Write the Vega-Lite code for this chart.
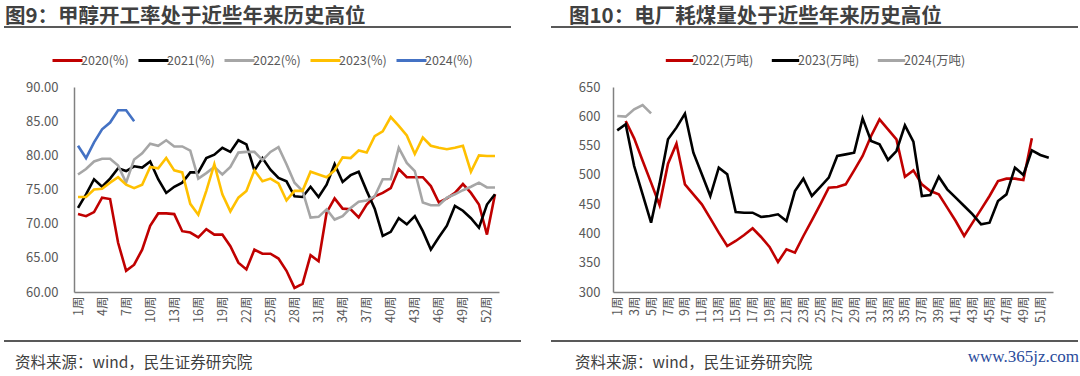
{
  "$schema": "https://vega.github.io/schema/vega-lite/v6.json",
  "background": "white",
  "padding": {"left": 3, "top": 6, "right": 0, "bottom": 0},
  "config": {
    "font": "Noto Sans CJK SC",
    "view": {"stroke": null},
    "axis": {"grid": false, "ticks": false, "tickSize": 0, "labelColor": "#595959", "domainColor": "#808080", "domainWidth": 1.5},
    "title": {"color": "#404040"}
  },
  "title": {"text": "www.365jz.com", "orient": "bottom", "anchor": "end", "offset": -23, "font": "Liberation Serif", "fontSize": 17, "fontWeight": "normal", "color": "#2A4B9B"},
  "spacing": 28,
  "resolve": {"scale": {"color": "independent"}, "legend": {"color": "independent"}},
  "hconcat": [
    {
      "spacing": 7,
      "resolve": {"scale": {"color": "independent"}, "legend": {"color": "independent"}},
      "vconcat": [
        {
          "width": 507, "height": 2,
          "data": {"values": [{"label": "header"}]},
          "mark": {"type": "rule", "color": "#595959", "strokeWidth": 2},
          "encoding": {
            "x": {"datum": 0, "type": "quantitative", "scale": {"domain": [0, 1]}, "axis": null},
            "x2": {"datum": 1}
          },
          "title": {"text": "图9：甲醇开工率处于近些年来历史高位", "anchor": "start", "fontSize": 20.5, "fontWeight": "bold", "color": "#404040", "offset": -1, "dx": 2}
        },
        {
          "width": 495, "height": 205,
          "data": {"values": [
            {"week":1,"series":"2020(%)","value":71.4},{"week":2,"series":"2020(%)","value":71.1},{"week":3,"series":"2020(%)","value":71.7},{"week":4,"series":"2020(%)","value":73.8},{"week":5,"series":"2020(%)","value":73.6},{"week":6,"series":"2020(%)","value":67.2},{"week":7,"series":"2020(%)","value":63.1},{"week":8,"series":"2020(%)","value":64.0},{"week":9,"series":"2020(%)","value":66.2},{"week":10,"series":"2020(%)","value":69.7},
            {"week":11,"series":"2020(%)","value":71.5},{"week":12,"series":"2020(%)","value":71.5},{"week":13,"series":"2020(%)","value":71.4},{"week":14,"series":"2020(%)","value":68.9},{"week":15,"series":"2020(%)","value":68.7},{"week":16,"series":"2020(%)","value":68.0},{"week":17,"series":"2020(%)","value":69.2},{"week":18,"series":"2020(%)","value":68.4},{"week":19,"series":"2020(%)","value":68.4},{"week":20,"series":"2020(%)","value":66.7},
            {"week":21,"series":"2020(%)","value":64.3},{"week":22,"series":"2020(%)","value":63.3},{"week":23,"series":"2020(%)","value":66.2},{"week":24,"series":"2020(%)","value":65.6},{"week":25,"series":"2020(%)","value":65.6},{"week":26,"series":"2020(%)","value":64.9},{"week":27,"series":"2020(%)","value":63.1},{"week":28,"series":"2020(%)","value":60.6},{"week":29,"series":"2020(%)","value":61.2},{"week":30,"series":"2020(%)","value":65.4},
            {"week":31,"series":"2020(%)","value":64.5},{"week":32,"series":"2020(%)","value":71.6},{"week":33,"series":"2020(%)","value":73.7},{"week":34,"series":"2020(%)","value":72.2},{"week":35,"series":"2020(%)","value":72.1},{"week":36,"series":"2020(%)","value":70.9},{"week":37,"series":"2020(%)","value":72.8},{"week":38,"series":"2020(%)","value":74.0},{"week":39,"series":"2020(%)","value":74.5},{"week":40,"series":"2020(%)","value":75.2},
            {"week":41,"series":"2020(%)","value":78.0},{"week":42,"series":"2020(%)","value":76.8},{"week":43,"series":"2020(%)","value":76.8},{"week":44,"series":"2020(%)","value":76.8},{"week":45,"series":"2020(%)","value":75.5},{"week":46,"series":"2020(%)","value":73.1},{"week":47,"series":"2020(%)","value":73.7},{"week":48,"series":"2020(%)","value":74.5},{"week":49,"series":"2020(%)","value":75.8},{"week":50,"series":"2020(%)","value":74.5},
            {"week":51,"series":"2020(%)","value":72.8},{"week":52,"series":"2020(%)","value":68.4},{"week":53,"series":"2020(%)","value":74.3},

            {"week":1,"series":"2021(%)","value":72.3},{"week":2,"series":"2021(%)","value":74.3},{"week":3,"series":"2021(%)","value":76.5},{"week":4,"series":"2021(%)","value":75.4},{"week":5,"series":"2021(%)","value":76.6},{"week":6,"series":"2021(%)","value":78.1},{"week":7,"series":"2021(%)","value":77.7},{"week":8,"series":"2021(%)","value":78.4},{"week":9,"series":"2021(%)","value":78.2},{"week":10,"series":"2021(%)","value":79.1},
            {"week":11,"series":"2021(%)","value":76.5},{"week":12,"series":"2021(%)","value":74.5},{"week":13,"series":"2021(%)","value":75.4},{"week":14,"series":"2021(%)","value":76.0},{"week":15,"series":"2021(%)","value":77.5},{"week":16,"series":"2021(%)","value":77.5},{"week":17,"series":"2021(%)","value":79.6},{"week":18,"series":"2021(%)","value":80.1},{"week":19,"series":"2021(%)","value":81.1},{"week":20,"series":"2021(%)","value":80.5},
            {"week":21,"series":"2021(%)","value":82.2},{"week":22,"series":"2021(%)","value":81.6},{"week":23,"series":"2021(%)","value":77.8},{"week":24,"series":"2021(%)","value":79.6},{"week":25,"series":"2021(%)","value":77.9},{"week":26,"series":"2021(%)","value":76.7},{"week":27,"series":"2021(%)","value":76.2},{"week":28,"series":"2021(%)","value":74.0},{"week":29,"series":"2021(%)","value":73.9},{"week":30,"series":"2021(%)","value":75.4},
            {"week":31,"series":"2021(%)","value":73.9},{"week":32,"series":"2021(%)","value":75.7},{"week":33,"series":"2021(%)","value":78.7},{"week":34,"series":"2021(%)","value":76.1},{"week":35,"series":"2021(%)","value":77.1},{"week":36,"series":"2021(%)","value":77.6},{"week":37,"series":"2021(%)","value":74.8},{"week":38,"series":"2021(%)","value":72.2},{"week":39,"series":"2021(%)","value":68.2},{"week":40,"series":"2021(%)","value":68.8},
            {"week":41,"series":"2021(%)","value":70.8},{"week":42,"series":"2021(%)","value":69.9},{"week":43,"series":"2021(%)","value":71.1},{"week":44,"series":"2021(%)","value":68.9},{"week":45,"series":"2021(%)","value":66.2},{"week":46,"series":"2021(%)","value":68.0},{"week":47,"series":"2021(%)","value":69.7},{"week":48,"series":"2021(%)","value":72.6},{"week":49,"series":"2021(%)","value":71.9},{"week":50,"series":"2021(%)","value":70.8},
            {"week":51,"series":"2021(%)","value":69.4},{"week":52,"series":"2021(%)","value":72.8},{"week":53,"series":"2021(%)","value":74.3},

            {"week":1,"series":"2022(%)","value":77.2},{"week":2,"series":"2022(%)","value":78.0},{"week":3,"series":"2022(%)","value":79.1},{"week":4,"series":"2022(%)","value":79.5},{"week":5,"series":"2022(%)","value":79.5},{"week":6,"series":"2022(%)","value":78.5},{"week":7,"series":"2022(%)","value":76.0},{"week":8,"series":"2022(%)","value":79.4},{"week":9,"series":"2022(%)","value":80.3},{"week":10,"series":"2022(%)","value":81.7},
            {"week":11,"series":"2022(%)","value":81.4},{"week":12,"series":"2022(%)","value":82.2},{"week":13,"series":"2022(%)","value":81.3},{"week":14,"series":"2022(%)","value":81.3},{"week":15,"series":"2022(%)","value":80.7},{"week":16,"series":"2022(%)","value":76.6},{"week":17,"series":"2022(%)","value":77.4},{"week":18,"series":"2022(%)","value":78.3},{"week":19,"series":"2022(%)","value":77.2},{"week":20,"series":"2022(%)","value":78.3},
            {"week":21,"series":"2022(%)","value":80.4},{"week":22,"series":"2022(%)","value":80.5},{"week":23,"series":"2022(%)","value":80.5},{"week":24,"series":"2022(%)","value":79.3},{"week":25,"series":"2022(%)","value":80.5},{"week":26,"series":"2022(%)","value":81.2},{"week":27,"series":"2022(%)","value":78.7},{"week":28,"series":"2022(%)","value":76.0},{"week":29,"series":"2022(%)","value":74.8},{"week":30,"series":"2022(%)","value":70.9},
            {"week":31,"series":"2022(%)","value":71.0},{"week":32,"series":"2022(%)","value":72.1},{"week":33,"series":"2022(%)","value":70.6},{"week":34,"series":"2022(%)","value":71.1},{"week":35,"series":"2022(%)","value":72.3},{"week":36,"series":"2022(%)","value":73.2},{"week":37,"series":"2022(%)","value":73.4},{"week":38,"series":"2022(%)","value":74.0},{"week":39,"series":"2022(%)","value":76.5},{"week":40,"series":"2022(%)","value":76.5},
            {"week":41,"series":"2022(%)","value":81.1},{"week":42,"series":"2022(%)","value":78.9},{"week":43,"series":"2022(%)","value":77.7},{"week":44,"series":"2022(%)","value":73.1},{"week":45,"series":"2022(%)","value":72.7},{"week":46,"series":"2022(%)","value":72.7},{"week":47,"series":"2022(%)","value":73.8},{"week":48,"series":"2022(%)","value":74.3},{"week":49,"series":"2022(%)","value":74.9},{"week":50,"series":"2022(%)","value":75.4},
            {"week":51,"series":"2022(%)","value":76.0},{"week":52,"series":"2022(%)","value":75.3},{"week":53,"series":"2022(%)","value":75.3},

            {"week":1,"series":"2023(%)","value":73.9},{"week":2,"series":"2023(%)","value":73.9},{"week":3,"series":"2023(%)","value":75.0},{"week":4,"series":"2023(%)","value":75.1},{"week":5,"series":"2023(%)","value":76.0},{"week":6,"series":"2023(%)","value":76.8},{"week":7,"series":"2023(%)","value":75.7},{"week":8,"series":"2023(%)","value":75.2},{"week":9,"series":"2023(%)","value":75.7},{"week":10,"series":"2023(%)","value":78.3},
            {"week":11,"series":"2023(%)","value":78.1},{"week":12,"series":"2023(%)","value":79.6},{"week":13,"series":"2023(%)","value":77.8},{"week":14,"series":"2023(%)","value":77.5},{"week":15,"series":"2023(%)","value":72.9},{"week":16,"series":"2023(%)","value":71.3},{"week":17,"series":"2023(%)","value":74.8},{"week":18,"series":"2023(%)","value":78.7},{"week":19,"series":"2023(%)","value":74.3},{"week":20,"series":"2023(%)","value":71.8},
            {"week":21,"series":"2023(%)","value":73.8},{"week":22,"series":"2023(%)","value":74.8},{"week":23,"series":"2023(%)","value":77.8},{"week":24,"series":"2023(%)","value":76.2},{"week":25,"series":"2023(%)","value":76.6},{"week":26,"series":"2023(%)","value":75.9},{"week":27,"series":"2023(%)","value":73.4},{"week":28,"series":"2023(%)","value":74.8},{"week":29,"series":"2023(%)","value":74.8},{"week":30,"series":"2023(%)","value":77.6},
            {"week":31,"series":"2023(%)","value":77.2},{"week":32,"series":"2023(%)","value":76.8},{"week":33,"series":"2023(%)","value":77.8},{"week":34,"series":"2023(%)","value":79.7},{"week":35,"series":"2023(%)","value":79.6},{"week":36,"series":"2023(%)","value":80.7},{"week":37,"series":"2023(%)","value":80.4},{"week":38,"series":"2023(%)","value":82.8},{"week":39,"series":"2023(%)","value":83.5},{"week":40,"series":"2023(%)","value":85.6},
            {"week":41,"series":"2023(%)","value":84.3},{"week":42,"series":"2023(%)","value":82.9},{"week":43,"series":"2023(%)","value":80.2},{"week":44,"series":"2023(%)","value":82.6},{"week":45,"series":"2023(%)","value":81.4},{"week":46,"series":"2023(%)","value":81.1},{"week":47,"series":"2023(%)","value":80.9},{"week":48,"series":"2023(%)","value":81.1},{"week":49,"series":"2023(%)","value":81.4},{"week":50,"series":"2023(%)","value":77.6},
            {"week":51,"series":"2023(%)","value":80.0},{"week":52,"series":"2023(%)","value":79.9},{"week":53,"series":"2023(%)","value":79.9},

            {"week":1,"series":"2024(%)","value":81.4},{"week":2,"series":"2024(%)","value":79.6},{"week":3,"series":"2024(%)","value":81.9},{"week":4,"series":"2024(%)","value":83.8},{"week":5,"series":"2024(%)","value":84.8},{"week":6,"series":"2024(%)","value":86.6},{"week":7,"series":"2024(%)","value":86.6},{"week":8,"series":"2024(%)","value":85.0}
          ]},
          "mark": {"type": "line", "strokeWidth": 2.6},
          "encoding": {
            "x": {"field": "week", "type": "ordinal",
                  "scale": {"domain": [1,2,3,4,5,6,7,8,9,10,11,12,13,14,15,16,17,18,19,20,21,22,23,24,25,26,27,28,29,30,31,32,33,34,35,36,37,38,39,40,41,42,43,44,45,46,47,48,49,50,51,52,53], "range": [70, 495]},
                  "axis": {"values": [1,4,7,10,13,16,19,22,25,28,31,34,37,40,43,46,49,52], "labelExpr": "datum.value + '周'", "labelAngle": -90, "labelFontSize": 12.5, "labelPadding": 4, "labelOverlap": false,
                           "title": " ", "titleX": 70, "titleY": 41, "titleAngle": 0, "titleAlign": "left", "titleBaseline": "bottom", "titleFontSize": 2}},
            "y": {"field": "value", "type": "quantitative",
                  "scale": {"domain": [60, 90], "zero": false, "nice": false},
                  "axis": {"offset": -70, "values": [60,65,70,75,80,85,90], "format": ".2f", "labelFontSize": 13, "labelPadding": 16,
                           "title": " ", "titleX": 0, "titleY": -52, "titleAngle": 0, "titleAlign": "left", "titleBaseline": "top", "titleFontSize": 2}},
            "color": {"field": "series", "type": "nominal",
                      "scale": {"domain": ["2020(%)","2021(%)","2022(%)","2023(%)","2024(%)"], "range": ["#C00000","#000000","#A6A6A6","#FFC000","#4472C4"]},
                      "legend": {"orient": "none", "legendX": 47, "legendY": -43, "direction": "horizontal", "title": null,
                                 "symbolType": "stroke", "symbolSize": 900, "symbolStrokeWidth": 3, "labelFontSize": 12.5, "labelColor": "#595959", "labelOffset": -3, "columnPadding": 3}}
          }
        },
        {
          "width": 517, "height": 2,
          "data": {"values": [{"label": "footer"}]},
          "mark": {"type": "rule", "color": "#595959", "strokeWidth": 2},
          "encoding": {
            "x": {"datum": 0, "type": "quantitative", "scale": {"domain": [0, 1]}, "axis": null},
            "x2": {"datum": 1}
          },
          "title": {"text": "资料来源：wind，民生证券研究院", "orient": "bottom", "anchor": "start", "fontSize": 15.5, "fontWeight": "normal", "color": "#404040", "offset": 14, "dx": 12}
        }
      ]
    },
    {
      "spacing": 7,
      "resolve": {"scale": {"color": "independent"}, "legend": {"color": "independent"}},
      "vconcat": [
        {
          "width": 527, "height": 2,
          "data": {"values": [{"label": "header"}]},
          "mark": {"type": "rule", "color": "#595959", "strokeWidth": 2},
          "encoding": {
            "x": {"datum": 0, "type": "quantitative", "scale": {"domain": [0, 1]}, "axis": null},
            "x2": {"datum": 1}
          },
          "title": {"text": "图10：电厂耗煤量处于近些年来历史高位", "anchor": "start", "fontSize": 20.5, "fontWeight": "bold", "color": "#404040", "offset": -1, "dx": 19}
        },
        {
          "width": 502, "height": 205,
          "data": {"values": [
            {"week":2,"series":"2022(万吨)","value":592.0},{"week":3,"series":"2022(万吨)","value":562.4},{"week":4,"series":"2022(万吨)","value":524.2},{"week":5,"series":"2022(万吨)","value":486.7},{"week":6,"series":"2022(万吨)","value":448.5},{"week":7,"series":"2022(万吨)","value":519.1},{"week":8,"series":"2022(万吨)","value":553.3},{"week":9,"series":"2022(万吨)","value":483.8},{"week":10,"series":"2022(万吨)","value":466.7},
            {"week":11,"series":"2022(万吨)","value":449.7},{"week":12,"series":"2022(万吨)","value":425.8},{"week":13,"series":"2022(万吨)","value":401.3},{"week":14,"series":"2022(万吨)","value":378.5},{"week":15,"series":"2022(万吨)","value":387.1},{"week":16,"series":"2022(万吨)","value":397.3},{"week":17,"series":"2022(万吨)","value":408.7},{"week":18,"series":"2022(万吨)","value":393.9},{"week":19,"series":"2022(万吨)","value":377.0},{"week":20,"series":"2022(万吨)","value":351.2},
            {"week":21,"series":"2022(万吨)","value":372.9},{"week":22,"series":"2022(万吨)","value":367.2},{"week":23,"series":"2022(万吨)","value":395.6},{"week":24,"series":"2022(万吨)","value":422.4},{"week":25,"series":"2022(万吨)","value":449.7},{"week":26,"series":"2022(万吨)","value":478.1},{"week":27,"series":"2022(万吨)","value":479.3},{"week":28,"series":"2022(万吨)","value":483.8},{"week":29,"series":"2022(万吨)","value":507.7},{"week":30,"series":"2022(万吨)","value":532.2},
            {"week":31,"series":"2022(万吨)","value":566.3},{"week":32,"series":"2022(万吨)","value":594.8},{"week":33,"series":"2022(万吨)","value":577.7},{"week":34,"series":"2022(万吨)","value":560.6},{"week":35,"series":"2022(万吨)","value":496.9},{"week":36,"series":"2022(万吨)","value":507.7},{"week":37,"series":"2022(万吨)","value":483.8},{"week":38,"series":"2022(万吨)","value":472.4},{"week":39,"series":"2022(万吨)","value":466.7},{"week":40,"series":"2022(万吨)","value":444.0},
            {"week":41,"series":"2022(万吨)","value":421.2},{"week":42,"series":"2022(万吨)","value":395.6},{"week":43,"series":"2022(万吨)","value":418.4},{"week":44,"series":"2022(万吨)","value":441.1},{"week":45,"series":"2022(万吨)","value":463.9},{"week":46,"series":"2022(万吨)","value":489.5},{"week":47,"series":"2022(万吨)","value":493.5},{"week":48,"series":"2022(万吨)","value":493.5},{"week":49,"series":"2022(万吨)","value":491.2},{"week":50,"series":"2022(万吨)","value":562.4},

            {"week":1,"series":"2023(万吨)","value":576.0},{"week":2,"series":"2023(万吨)","value":586.3},{"week":3,"series":"2023(万吨)","value":515.1},{"week":4,"series":"2023(万吨)","value":466.7},{"week":5,"series":"2023(万吨)","value":418.4},{"week":6,"series":"2023(万吨)","value":485.0},{"week":7,"series":"2023(万吨)","value":560.7},{"week":8,"series":"2023(万吨)","value":580.6},{"week":9,"series":"2023(万吨)","value":604.5},{"week":10,"series":"2023(万吨)","value":537.9},
            {"week":11,"series":"2023(万吨)","value":500.9},{"week":12,"series":"2023(万吨)","value":463.9},{"week":13,"series":"2023(万吨)","value":512.3},{"week":14,"series":"2023(万吨)","value":500.9},{"week":15,"series":"2023(万吨)","value":436.6},{"week":16,"series":"2023(万吨)","value":435.4},{"week":17,"series":"2023(万吨)","value":435.4},{"week":18,"series":"2023(万吨)","value":428.0},{"week":19,"series":"2023(万吨)","value":429.8},{"week":20,"series":"2023(万吨)","value":432.6},
            {"week":21,"series":"2023(万吨)","value":421.2},{"week":22,"series":"2023(万吨)","value":472.4},{"week":23,"series":"2023(万吨)","value":493.5},{"week":24,"series":"2023(万吨)","value":463.9},{"week":25,"series":"2023(万吨)","value":479.3},{"week":26,"series":"2023(万吨)","value":495.2},{"week":27,"series":"2023(万吨)","value":532.2},{"week":28,"series":"2023(万吨)","value":535.0},{"week":29,"series":"2023(万吨)","value":537.9},{"week":30,"series":"2023(万吨)","value":596.5},
            {"week":31,"series":"2023(万吨)","value":557.8},{"week":32,"series":"2023(万吨)","value":552.1},{"week":33,"series":"2023(万吨)","value":525.4},{"week":34,"series":"2023(万吨)","value":540.7},{"week":35,"series":"2023(万吨)","value":584.6},{"week":36,"series":"2023(万吨)","value":556.7},{"week":37,"series":"2023(万吨)","value":463.9},{"week":38,"series":"2023(万吨)","value":465.6},{"week":39,"series":"2023(万吨)","value":496.9},{"week":40,"series":"2023(万吨)","value":475.3},
            {"week":41,"series":"2023(万吨)","value":461.1},{"week":42,"series":"2023(万吨)","value":446.8},{"week":43,"series":"2023(万吨)","value":432.6},{"week":44,"series":"2023(万吨)","value":415.5},{"week":45,"series":"2023(万吨)","value":418.4},{"week":46,"series":"2023(万吨)","value":455.4},{"week":47,"series":"2023(万吨)","value":466.7},{"week":48,"series":"2023(万吨)","value":512.3},{"week":49,"series":"2023(万吨)","value":499.8},{"week":50,"series":"2023(万吨)","value":541.9},
            {"week":51,"series":"2023(万吨)","value":533.9},{"week":52,"series":"2023(万吨)","value":529.3},

            {"week":1,"series":"2024(万吨)","value":600.5},{"week":2,"series":"2024(万吨)","value":599.4},{"week":3,"series":"2024(万吨)","value":611.9},{"week":4,"series":"2024(万吨)","value":619.3},{"week":5,"series":"2024(万吨)","value":605.0}
          ]},
          "mark": {"type": "line", "strokeWidth": 2.6},
          "encoding": {
            "x": {"field": "week", "type": "ordinal",
                  "scale": {"domain": [1,2,3,4,5,6,7,8,9,10,11,12,13,14,15,16,17,18,19,20,21,22,23,24,25,26,27,28,29,30,31,32,33,34,35,36,37,38,39,40,41,42,43,44,45,46,47,48,49,50,51,52], "range": [62, 502]},
                  "axis": {"values": [1,3,5,7,9,11,13,15,17,19,21,23,25,27,29,31,33,35,37,39,41,43,45,47,49,51], "labelExpr": "datum.value + '周'", "labelAngle": -90, "labelFontSize": 12.5, "labelPadding": 4, "labelOverlap": false,
                           "title": " ", "titleX": 62, "titleY": 41, "titleAngle": 0, "titleAlign": "left", "titleBaseline": "bottom", "titleFontSize": 2}},
            "y": {"field": "value", "type": "quantitative",
                  "scale": {"domain": [300, 650], "zero": false, "nice": false},
                  "axis": {"offset": -62, "values": [300,350,400,450,500,550,600,650], "format": "d", "labelFontSize": 13, "labelPadding": 13,
                           "title": " ", "titleX": 0, "titleY": -52, "titleAngle": 0, "titleAlign": "left", "titleBaseline": "top", "titleFontSize": 2}},
            "color": {"field": "series", "type": "nominal",
                      "scale": {"domain": ["2022(万吨)","2023(万吨)","2024(万吨)"], "range": ["#C00000","#000000","#A6A6A6"]},
                      "legend": {"orient": "none", "legendX": 113, "legendY": -42, "direction": "horizontal", "title": null,
                                 "symbolType": "stroke", "symbolSize": 750, "symbolStrokeWidth": 3, "labelFontSize": 12.5, "labelColor": "#595959", "labelOffset": -3, "columnPadding": 11}}
          }
        },
        {
          "width": 527, "height": 2,
          "data": {"values": [{"label": "footer"}]},
          "mark": {"type": "rule", "color": "#595959", "strokeWidth": 2},
          "encoding": {
            "x": {"datum": 0, "type": "quantitative", "scale": {"domain": [0, 1]}, "axis": null},
            "x2": {"datum": 1}
          },
          "title": {"text": "资料来源：wind，民生证券研究院", "orient": "bottom", "anchor": "start", "fontSize": 15.5, "fontWeight": "normal", "color": "#404040", "offset": 14, "dx": 25}
        }
      ]
    }
  ]
}
